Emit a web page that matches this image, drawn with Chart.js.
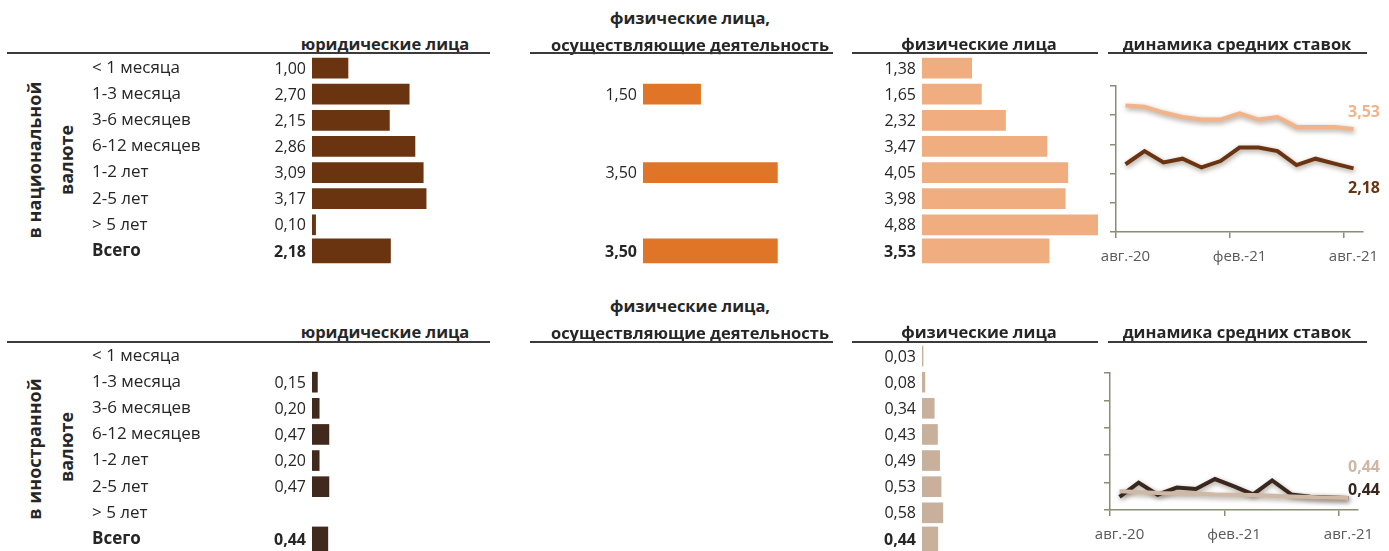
<!DOCTYPE html>
<html lang="ru">
<head>
<meta charset="utf-8">
<title>Ставки по депозитам</title>
<script src="https://cdn.jsdelivr.net/npm/chart.js@4.4.0/dist/chart.umd.min.js"></script>
<style>
  html, body { margin: 0; padding: 0; background: #fff; }
  body { width: 1389px; height: 551px; position: relative; overflow: hidden; font-family: 'Open Sans', sans-serif; color: #262626; }
  canvas { position: absolute; }
  .hdr { position: absolute; font-weight: bold; font-size: 16.5px; white-space: nowrap; transform: translate(-50%, -50%); }
  .side { position: absolute; font-weight: bold; font-size: 18px; white-space: nowrap; transform: translate(-50%, -50%) rotate(-90deg); }
  .rule { position: absolute; height: 0; border-top: 2px solid #3b3b3b; }
</style>
</head>
<body>
<canvas id="natLegal" width="400" height="209" style="left:92px;top:55px"></canvas>
<canvas id="natEntr" width="252" height="209" style="left:583px;top:55px"></canvas>
<canvas id="natInd" width="230" height="209" style="left:872px;top:55px"></canvas>
<canvas id="natTrend" width="299" height="187" style="left:1090px;top:80px"></canvas>

<canvas id="fxLegal" width="400" height="209" style="left:92px;top:343px"></canvas>
<canvas id="fxEntr" width="252" height="209" style="left:583px;top:343px"></canvas>
<canvas id="fxInd" width="230" height="209" style="left:872px;top:343px"></canvas>
<canvas id="fxTrend" width="305" height="178" style="left:1084px;top:367px"></canvas>

<script>
// rows of the term structure
const termLabels = ['< 1 месяца', '1-3 месяца', '3-6 месяцев', '6-12 месяцев', '1-2 лет', '2-5 лет', '> 5 лет', 'Всего'];

// national currency
const natLegal = [1.00, 2.70, 2.15, 2.86, 3.09, 3.17, 0.10, 2.18];
const natEntrepreneurs = [null, 1.50, null, null, 3.50, null, null, 3.50];
const natIndividuals = [1.38, 1.65, 2.32, 3.47, 4.05, 3.98, 4.88, 3.53];

// foreign currency
const fxLegal = [null, 0.15, 0.20, 0.47, 0.20, 0.47, null, 0.44];
const fxEntrepreneurs = [null, null, null, null, null, null, null, null];
const fxIndividuals = [0.03, 0.08, 0.34, 0.43, 0.49, 0.53, 0.58, 0.44];

// dynamics of average rates
const months = ['авг.-20', 'сен.-20', 'окт.-20', 'нояб.-20', 'дек.-20', 'янв.-21', 'фев.-21',
                'мар.-21', 'апр.-21', 'май-21', 'июн.-21', 'июл.-21', 'авг.-21'];
const natTrendIndividuals = [4.33, 4.29, 4.09, 3.94, 3.85, 3.85, 4.06, 3.85, 3.94, 3.60, 3.60, 3.60, 3.53];
const natTrendLegal = [2.32, 2.77, 2.38, 2.51, 2.21, 2.43, 2.89, 2.89, 2.77, 2.29, 2.51, 2.34, 2.18];
const fxTrendIndividuals = [0.68, 0.66, 0.62, 0.60, 0.60, 0.57, 0.56, 0.55, 0.52, 0.49, 0.47, 0.45, 0.44];
const fxTrendLegal = [0.48, 1.00, 0.56, 0.82, 0.77, 1.13, 0.86, 0.57, 1.08, 0.57, 0.48, 0.46, 0.44];

const FONT = "'Open Sans', sans-serif";
const TEXT = '#262626';
const AXIS = '#868e74';

const fmt = (v) => v.toFixed(2).replace('.', ',');

// headers, rules and side captions
const headers = [
  ['юридические лица', 385, 43], ['физические лица,', 690, 17], ['осуществляющие деятельность', 690, 44],
  ['физические лица', 979, 43], ['динамика средних ставок', 1237, 43],
  ['юридические лица', 385, 331], ['физические лица,', 690, 305], ['осуществляющие деятельность', 690, 332],
  ['физические лица', 979, 331], ['динамика средних ставок', 1237, 331]
];
const rules = [[7, 490, 52], [530, 833, 52], [852, 1098, 52], [1108, 1367, 52],
               [7, 490, 341], [530, 833, 341], [852, 1098, 341], [1108, 1367, 341]];
const sides = [['в национальной', 34, 160], ['валюте', 66, 160], ['в иностранной', 34, 449], ['валюте', 66, 447]];

headers.forEach(([t, x, y]) => {
  const d = document.createElement('div');
  d.className = 'hdr'; d.textContent = t;
  d.style.left = x + 'px'; d.style.top = y + 'px';
  document.body.appendChild(d);
});
rules.forEach(([x1, x2, y]) => {
  const d = document.createElement('div');
  d.className = 'rule';
  d.style.left = x1 + 'px'; d.style.width = (x2 - x1) + 'px'; d.style.top = y + 'px';
  document.body.appendChild(d);
});
sides.forEach(([t, x, y]) => {
  const d = document.createElement('div');
  d.className = 'side'; d.textContent = t;
  d.style.left = x + 'px'; d.style.top = y + 'px';
  document.body.appendChild(d);
});

// value labels to the left of each bar
const valueLabels = {
  id: 'valueLabels',
  afterDatasetsDraw(chart, args, opts) {
    const { ctx, chartArea } = chart;
    const ys = chart.scales.y;
    ctx.save();
    ctx.fillStyle = TEXT;
    ctx.textAlign = 'right';
    ctx.textBaseline = 'middle';
    opts.values.forEach((v, i) => {
      if (v == null) return;
      ctx.font = (i === 7 ? 'bold ' : '') + '16px ' + FONT;
      ctx.fillText(fmt(v), chartArea.left - 6, ys.getPixelForValue(i) + 1);
    });
    ctx.restore();
  }
};

function barChart(id, values, color, padLeft, showTerms) {
  const rows = values.map((v, i) => (i < 7 ? v : null));
  const total = values.map((v, i) => (i === 7 ? v : null));
  const y = showTerms ? {
    grid: { display: false }, border: { display: false },
    ticks: {
      crossAlign: 'far', color: TEXT,
      font: (c) => ({ family: FONT, size: 17, weight: c.index === 7 ? 'bold' : 'normal' })
    },
    afterFit: (s) => { s.width = 220; s.paddingTop = 0; s.paddingBottom = 0; }
  } : { display: false };
  return new Chart(document.getElementById(id), {
    type: 'bar',
    data: {
      labels: termLabels,
      datasets: [
        { data: rows, backgroundColor: color, barThickness: 20, grouped: false },
        { data: total, backgroundColor: color, barThickness: 24, grouped: false }
      ]
    },
    options: {
      indexAxis: 'y', responsive: false, animation: false, events: [],
      layout: { padding: { left: padLeft, right: 0, top: 0, bottom: 0 } },
      plugins: { legend: { display: false }, tooltip: { enabled: false }, valueLabels: { values } },
      scales: { x: { display: false, min: 0, max: 5 }, y }
    },
    plugins: [valueLabels]
  });
}

barChart('natLegal', natLegal, '#6b3411', 0, true);
barChart('natEntr', natEntrepreneurs, '#e07427', 60, false);
barChart('natInd', natIndividuals, '#f0ae80', 50, false);
barChart('fxLegal', fxLegal, '#42291d', 0, true);
barChart('fxEntr', fxEntrepreneurs, '#e07427', 60, false);
barChart('fxInd', fxIndividuals, '#c9b09c', 50, false);

// soft shadow under lines and end value labels
const lineDecor = {
  id: 'lineDecor',
  beforeDatasetDraw(chart) {
    const c = chart.ctx;
    c.save();
    c.shadowColor = 'rgba(60, 40, 20, 0.45)';
    c.shadowBlur = 5;
    c.shadowOffsetX = 1;
    c.shadowOffsetY = 2;
  },
  afterDatasetDraw(chart) { chart.ctx.restore(); },
  afterDatasetsDraw(chart, args, opts) {
    const { ctx, chartArea } = chart;
    ctx.save();
    ctx.textAlign = 'right';
    ctx.textBaseline = 'middle';
    ctx.font = 'bold 16px ' + FONT;
    chart.data.datasets.forEach((ds, i) => {
      const last = ds.data[ds.data.length - 1];
      ctx.fillStyle = ds.borderColor;
      ctx.fillText(fmt(last), chartArea.right + opts.right, chart.scales.y.getPixelForValue(last) + opts.offsets[i]);
    });
    ctx.restore();
  }
};

function trendChart(id, ind, legal, indColor, legalColor, padRight, offsets) {
  return new Chart(document.getElementById(id), {
    type: 'line',
    data: {
      labels: months,
      datasets: [
        { data: ind, borderColor: indColor, borderWidth: 4, pointRadius: 0, tension: 0 },
        { data: legal, borderColor: legalColor, borderWidth: 4, pointRadius: 0, tension: 0 }
      ]
    },
    options: {
      responsive: false, animation: false, events: [],
      layout: { padding: { left: 18, right: padRight, top: 6, bottom: 0 } },
      plugins: { legend: { display: false }, tooltip: { enabled: false }, lineDecor: { right: padRight - 9, offsets } },
      scales: {
        x: {
          offset: true,
          grid: {
            offset: true, drawOnChartArea: false, tickLength: 6, lineWidth: 1.5,
            color: (c) => (c.index % 6 === 0 ? AXIS : 'rgba(0,0,0,0)')
          },
          border: { color: AXIS, width: 1.5 },
          ticks: {
            autoSkip: false, maxRotation: 0, padding: 10, color: '#595959',
            font: { family: FONT, size: 15 },
            callback: (v, i) => (i % 6 === 0 ? months[i] : '')
          },
          afterFit: (s) => { s.paddingLeft = 0; s.paddingRight = 0; s.height = 35; }
        },
        y: {
          min: 0, max: 5,
          ticks: { stepSize: 1, display: false },
          grid: { drawOnChartArea: false, tickLength: 6, lineWidth: 1.5, color: AXIS },
          border: { color: AXIS, width: 1.5 },
          afterFit: (s) => { s.width = 8; }
        }
      }
    },
    plugins: [lineDecor]
  });
}

trendChart('natTrend', natTrendIndividuals, natTrendLegal, '#f2b388', '#6b3411', 26, [-16, 20]);
trendChart('fxTrend', fxTrendIndividuals, fxTrendLegal, '#cfb8a6', '#3a281f', 31, [-31, -8]);
</script>
</body>
</html>
